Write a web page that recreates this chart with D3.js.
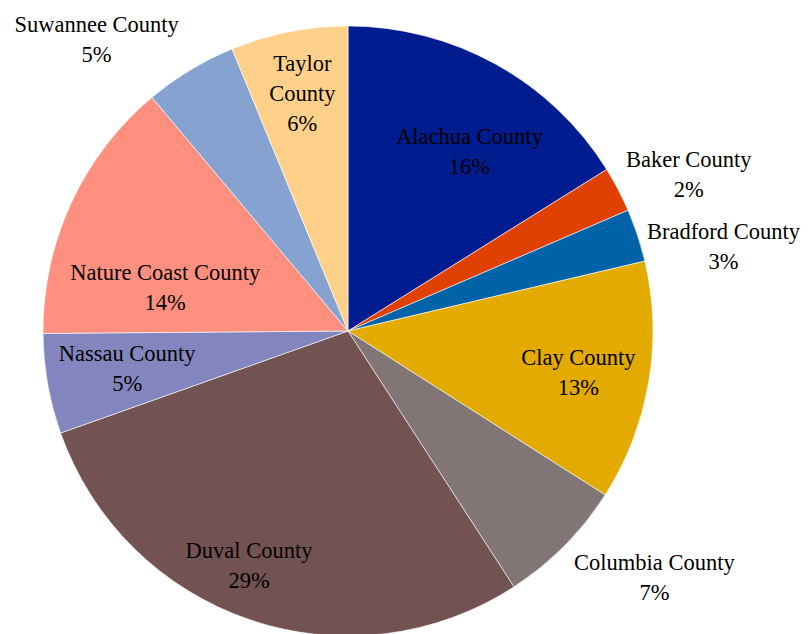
<!DOCTYPE html>
<html><head><meta charset="utf-8">
<script src="https://cdn.jsdelivr.net/npm/d3@7"></script>
<style>body{margin:0;background:#fff}svg{display:block}</style>
</head><body>
<script>
const categories = ["Alachua County","Baker County","Bradford County","Clay County","Columbia County","Duval County","Nassau County","Nature Coast County","Suwannee County","Taylor County"];
const values = [16.1, 2.4, 2.8, 12.7, 6.8, 28.7, 5.3, 14.0, 4.9, 6.2];
const colors = ["#001C8E","#E04000","#0063A8","#E3AA00","#827575","#735252","#8386BE","#FF9080","#85A2D0","#FFD08A"];
// label layout: [radius, angle offset deg from slice mid, line break]
const labelLayout = [[217,5,false],[375,3,false],[385,5.5,false],[234,0.4,false],[393,-6,false],[254,4.2,false],[224,0.4,false],[188,-11.3,false],[385,-9.6,false],[242,0.3,true]];

const W=810,H=634, cx=348, cy=331, R=305;
const svg=d3.select("body").append("svg").attr("width",W).attr("height",H);
const g=svg.append("g").attr("transform",`translate(${cx},${cy})`);
const pie=d3.pie().sort(null).value(d=>d)(values);
const arc=d3.arc().innerRadius(0).outerRadius(R);
const total=d3.sum(values);
g.selectAll("path").data(pie).join("path")
 .attr("d",arc).attr("fill",(d,i)=>colors[i]).attr("stroke","#fff").attr("stroke-width",0.6);

const fs=22.5, lh=30;
pie.forEach((d,i)=>{
  const [r,off,brk]=labelLayout[i];
  const a=(d.startAngle+d.endAngle)/2 + off*Math.PI/180;
  const x=r*Math.sin(a), y=-r*Math.cos(a);
  let lines = brk ? categories[i].split(" ") : [categories[i]];
  lines.push(Math.round(values[i]/total*100)+"%");
  const t=g.append("text").attr("text-anchor","middle")
    .attr("font-family","'Liberation Serif', 'DejaVu Serif', serif").attr("font-size",fs).attr("fill","#000");
  const n=lines.length;
  lines.forEach((s,k)=>{
    t.append("tspan").attr("x",x).attr("y",y+(k-(n-1)/2)*lh).attr("dy","0.35em").text(s);
  });
});
</script>
</body></html>
